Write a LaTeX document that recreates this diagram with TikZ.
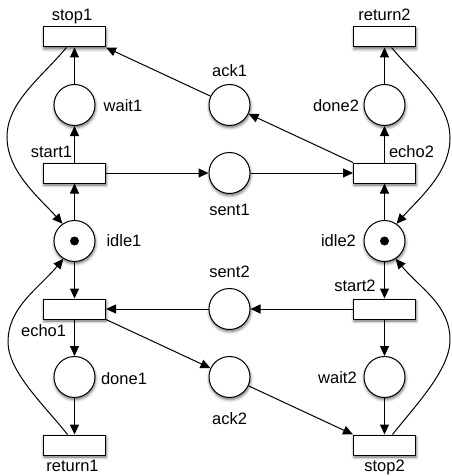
\documentclass[tikz,border=0pt]{standalone}
\usepackage{fontspec}
\setmainfont{Liberation Sans}
\usetikzlibrary{arrows.meta,shadows.blur}
\begin{document}
\begin{tikzpicture}[x=1pt,y=-1pt,
  every node/.style={font=\fontsize{16.5}{19}\selectfont},
  shad/.style={blur shadow={shadow xshift=0.5pt,shadow yshift=-2pt,shadow blur radius=3pt,shadow opacity=60}},
  place/.style={circle,draw,line width=1pt,fill=white,minimum size=41pt,inner sep=0pt,shad},
  trans/.style={rectangle,draw,line width=1pt,fill=white,minimum width=62pt,minimum height=20pt,inner sep=0pt,shad},
  lbl/.style={anchor=base,inner sep=0pt},
  arr/.style={-{Triangle[length=10pt,width=9pt]},line width=1pt},
]
\useasboundingbox (0,0) rectangle (451,476);

% left column
\node[trans] (stop1)   at (74.5,37)  {};
\node[place] (wait1)   at (74.5,105) {};
\node[trans] (start1)  at (74.5,173) {};
\node[place] (idle1)   at (74.5,241) {};
\node[trans] (echo1)   at (74.5,309) {};
\node[place] (done1)   at (74.5,377) {};
\node[trans] (return1) at (74.5,445) {};
% middle column
\node[place] (ack1)  at (229.5,105) {};
\node[place] (sent1) at (229.5,173) {};
\node[place] (sent2) at (229.5,309) {};
\node[place] (ack2)  at (229.5,377) {};
% right column
\node[trans] (return2) at (384.5,37)  {};
\node[place] (done2)   at (384.5,105) {};
\node[trans] (echo2)   at (384.5,173) {};
\node[place] (idle2)   at (384.5,241) {};
\node[trans] (start2)  at (384.5,309) {};
\node[place] (wait2)   at (384.5,377) {};
\node[trans] (stop2)   at (384.5,445) {};

% tokens
\fill (idle1.center) circle[radius=4.5pt];
\fill (idle2.center) circle[radius=4.5pt];

% labels
\node[lbl] (lstop1)   at (72,20.5)    {stop1};
\node[lbl] (lreturn2) at (384.5,20.5) {return2};
\node[lbl] (lwait1)   at (123,111.5)  {wait1};
\node[lbl] (lack1)    at (229.5,76.5) {ack1};
\node[lbl] (ldone2)   at (336,111.5)  {done2};
\node[lbl] (lstart1)  at (51.5,157)   {start1};
\node[lbl] (lsent1)   at (229.5,215)  {sent1};
\node[lbl] (lecho2)   at (411.5,157)  {echo2};
\node[lbl] (lidle1)   at (124,246.5)  {idle1};
\node[lbl] (lidle2)   at (338.5,246.5){idle2};
\node[lbl] (lsent2)   at (229.5,277.5){sent2};
\node[lbl] (lstart2)  at (355,291)    {start2};
\node[lbl] (lecho1)   at (43.6,336)   {echo1};
\node[lbl] (ldone1)   at (124,384)    {done1};
\node[lbl] (lwait2)   at (337.5,383)  {wait2};
\node[lbl] (lack2)    at (229.5,424)  {ack2};
\node[lbl] (lreturn1) at (72.5,471)   {return1};
\node[lbl] (lstop2)   at (384.5,471)  {stop2};

% straight arcs
\draw[arr] (wait1) -- (stop1);
\draw[arr] (start1) -- (wait1);
\draw[arr] (idle1) -- (start1);
\draw[arr] (ack1) -- (stop1.south east);
\draw[arr] (start1) -- (sent1);
\draw[arr] (sent1) -- (echo2);
\draw[arr] (echo2.north west) -- (ack1);
\draw[arr] (echo2) -- (done2);
\draw[arr] (done2) -- (return2);
\draw[arr] (idle2) -- (echo2);
\draw[arr] (idle1) -- (echo1);
\draw[arr] (sent2) -- (echo1);
\draw[arr] (start2) -- (sent2);
\draw[arr] (idle2) -- (start2);
\draw[arr] (echo1) -- (done1);
\draw[arr] (echo1.south east) -- (ack2);
\draw[arr] (ack2) -- (stop2.north west);
\draw[arr] (start2) -- (wait2);
\draw[arr] (wait2) -- (stop2);
\draw[arr] (done1) -- (return1);

% curved arcs
\coordinate (lt) at (7,137);
\coordinate (lb) at (8,342);
\coordinate (rt) at (450,138);
\coordinate (rb) at (450,340);
\draw[arr] ([xshift=-8pt]stop1.south) .. controls +(-25,30) and +(0,-35) .. (lt)
  .. controls +(0,35) and +(-22,-25) .. (idle1.125);
\draw[arr] ([xshift=-7pt]return1.north) .. controls +(-22,-28) and +(0,30) .. (lb)
  .. controls +(0,-35) and +(-25,30) .. (idle1.-122);
\draw[arr] ([xshift=7pt]return2.south) .. controls +(25,30) and +(0,-35) .. (rt)
  .. controls +(0,35) and +(22,-25) .. (idle2.55);
\draw[arr] ([xshift=8pt]stop2.north) .. controls +(22,-28) and +(0,30) .. (rb)
  .. controls +(0,-35) and +(25,30) .. (idle2.-58);
\end{tikzpicture}
\end{document}
